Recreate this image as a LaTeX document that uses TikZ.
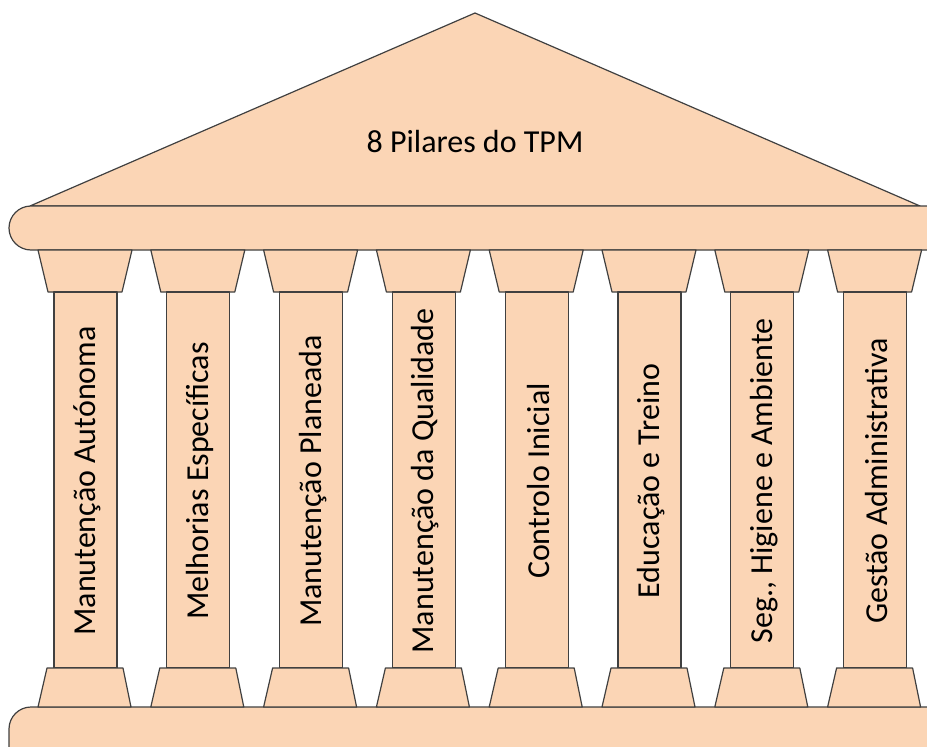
\documentclass[tikz,border=0pt]{standalone}
\usepackage{fontspec}
\setmainfont{Carlito}
\definecolor{peach}{RGB}{251,213,181}
\definecolor{edge}{RGB}{64,64,64}
\tikzset{
  part/.style={fill=peach,draw=edge,line width=1.2pt,line join=round},
  lbl/.style={font=\fontsize{32}{38}\selectfont,rotate=90,inner sep=0pt},
}
\begin{document}
\begin{tikzpicture}[x=1pt,y=-1pt]
\useasboundingbox (0,0) rectangle (927,747);
\begin{scope}
\clip (0,0) rectangle (927,747);
% roof
\draw[part] (30,206) -- (475,13) -- (920,206) -- cycle;
\node[font=\fontsize{32}{38}\selectfont] (title) at (475,142) {8 Pilares do TPM};
% beams
\draw[part,rounded corners=22pt] (9,206) rectangle (990,250);
\draw[part,rounded corners=22pt] (9,707) rectangle (990,790);
% columns
\foreach \i/\t in {0/Manutenção Autónoma,1/Melhorias Específicas,2/Manutenção Planeada,3/Manutenção da Qualidade,4/Controlo Inicial,5/Educação e Treino,6/{Seg., Higiene e Ambiente},7/Gestão Administrativa}{
  \begin{scope}[xshift=\i*112.8]
    \draw[part] (38,250) -- (132,250) -- (122,292) -- (48,292) -- cycle;
    \draw[part] (54,292) rectangle (117,668);
    \draw[part] (47,668) -- (123,668) -- (131,707) -- (38,707) -- cycle;
    \node[lbl] (c\i) at (87,481) {\t};
  \end{scope}
}
\end{scope}
\end{tikzpicture}
\end{document}
